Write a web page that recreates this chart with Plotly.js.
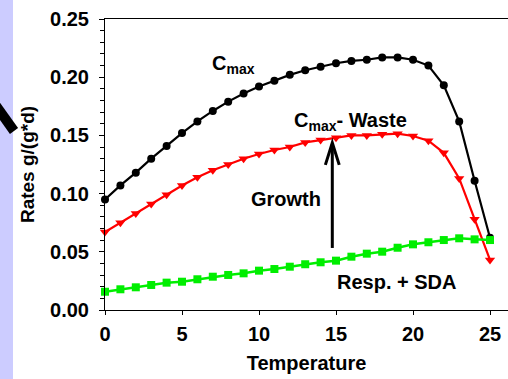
<!DOCTYPE html>
<html>
<head>
<meta charset="utf-8">
<script src="https://cdn.plot.ly/plotly-3.0.1.min.js"></script>
<style>html,body{margin:0;padding:0;background:#fff;}#chart{width:508px;height:379px;}</style>
</head>
<body>
<div id="chart"></div>
<script>
const temperature = [0,1,2,3,4,5,6,7,8,9,10,11,12,13,14,15,16,17,18,19,20,21,22,23,24,25];
const cmax = [0.095,0.107,0.118,0.130,0.141,0.152,0.162,0.171,0.179,0.186,0.192,0.197,0.202,0.206,0.209,0.212,0.214,0.215,0.217,0.217,0.215,0.210,0.193,0.162,0.111,0.062];
const cmaxMinusWaste = [0.067,0.075,0.083,0.091,0.099,0.107,0.114,0.120,0.125,0.130,0.134,0.1375,0.140,0.144,0.146,0.148,0.150,0.150,0.151,0.1515,0.1495,0.1455,0.135,0.113,0.078,0.043];
const respSDA = [0.0157,0.0178,0.0195,0.0215,0.0235,0.0243,0.0264,0.0286,0.0301,0.0315,0.0338,0.0352,0.0372,0.0393,0.0410,0.0424,0.0458,0.0484,0.0501,0.0535,0.0564,0.0582,0.0601,0.0616,0.0607,0.0601];
const yTicks = [0, 0.05, 0.10, 0.15, 0.20, 0.25];
const yTickLabels = ['0.00','0.05','0.10','0.15','0.20','0.25'];
const xTicks = [0,5,10,15,20,25];

const FONT = 'Liberation Sans, Arial, sans-serif';
const W = 508, H = 379, ML = 105, MR = 0, MT = 19, MB = 69;
const PW = W - ML - MR;
const px2paper = p => (p - ML) / PW;
const py2paper = p => (H - MB - p) / (H - MT - MB);

const traces = [
  {x: temperature, y: cmax, mode: 'lines+markers', cliponaxis: false,
   line: {color: '#000', width: 2.2}, marker: {symbol: 'circle', size: 8, color: '#000'}},
  {x: temperature, y: cmaxMinusWaste, mode: 'lines+markers', cliponaxis: false,
   line: {color: '#ff0000', width: 2.2}, marker: {symbol: 'triangle-down', size: 9, color: '#ff0000'}},
  {x: temperature, y: respSDA, mode: 'lines+markers', cliponaxis: false,
   line: {color: '#00ee00', width: 2.5}, marker: {symbol: 'square', size: 8, color: '#00ee00'}}
];

const arrowX = 14.76, arrowY0 = 0.0533, arrowY1 = 0.1437;
const ann = (px, py, text, size) => ({x: px2paper(px), y: py2paper(py), xref: 'paper', yref: 'paper',
  xanchor: 'center', yanchor: 'middle', text: text, showarrow: false,
  font: {family: FONT, size: size, color: '#000'}});
const layout = {
  width: W, height: H,
  margin: {l: ML, r: MR, t: MT, b: MB},
  paper_bgcolor: '#fff', plot_bgcolor: '#fff',
  showlegend: false,
  font: {family: FONT, color: '#000', size: 18},
  xaxis: {
    range: [0, PW / 15.4], tickvals: xTicks, ticks: 'outside', ticklen: 4, tickwidth: 1,
    tickcolor: '#000', showline: true, linecolor: '#000', linewidth: 1, mirror: true,
    showgrid: false, zeroline: false, ticklabelstandoff: 2,
    tickfont: {family: FONT, size: 20, color: '#000', weight: 'bold'},
    title: {text: '<b>Temperature</b>', font: {family: FONT, size: 20, color: '#000'}, standoff: 11}
  },
  yaxis: {
    range: [0, 0.25], tickvals: yTicks, ticktext: yTickLabels, ticks: 'outside', ticklen: 5, tickwidth: 1,
    tickcolor: '#000', showline: true, linecolor: '#000', linewidth: 1,
    showgrid: false, zeroline: false, ticklabelstandoff: 6,
    minor: {dtick: 0.01, ticks: 'outside', ticklen: 4, tickcolor: '#000', showgrid: false},
    tickfont: {family: FONT, size: 20, color: '#000', weight: 'bold'},
    title: {text: '<b>Rates g/(g*d)</b>', font: {family: FONT, size: 19, color: '#000'}, standoff: 10}
  },
  shapes: [
    {type: 'rect', xref: 'paper', yref: 'paper', x0: px2paper(0), x1: px2paper(13), y0: py2paper(379), y1: py2paper(0),
     fillcolor: '#ccccff', line: {width: 0}, layer: 'below'},
    {type: 'line', xref: 'paper', yref: 'paper', x0: px2paper(-6), y0: py2paper(103), x1: px2paper(14), y1: py2paper(131),
     line: {color: '#000', width: 10}},
    {type: 'line', xref: 'x', yref: 'y', x0: arrowX, x1: arrowX, y0: arrowY0, y1: arrowY1 - 0.001,
     line: {color: '#000', width: 3}},
    {type: 'path', xref: 'x', yref: 'y',
     path: 'M ' + (arrowX - 0.45) + ',' + (arrowY1 - 0.019) + ' L ' + arrowX + ',' + arrowY1 + ' L ' + (arrowX + 0.45) + ',' + (arrowY1 - 0.019),
     line: {color: '#000', width: 3}}
  ],
  annotations: [
    ann(233, 64, '<b>C<sub>max</sub></b>', 20),
    ann(350, 121, '<b>C<sub>max</sub>- Waste</b>', 20),
    ann(286, 199, '<b>Growth</b>', 20),
    ann(396, 282, '<b>Resp. + SDA</b>', 20)
  ]
};

Plotly.newPlot('chart', traces, layout, {displayModeBar: false, staticPlot: true});
</script>
</body>
</html>
